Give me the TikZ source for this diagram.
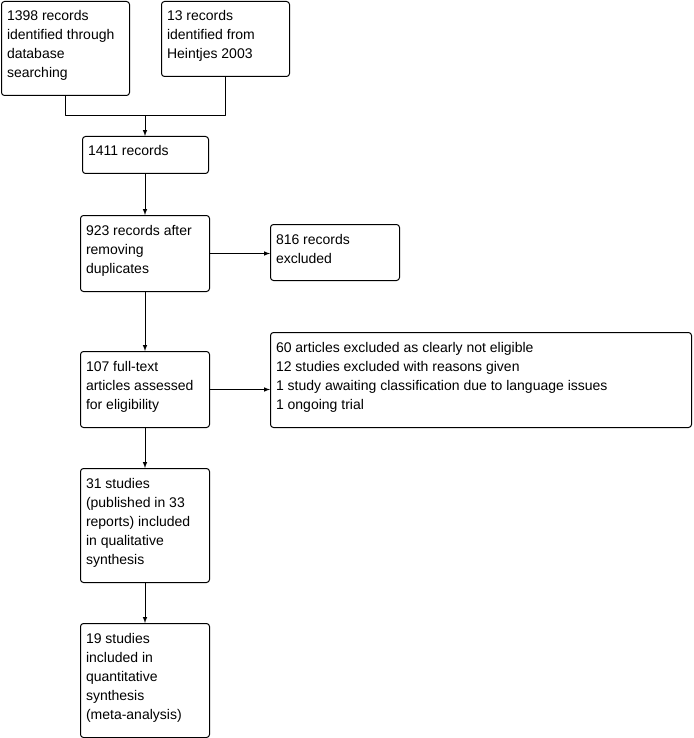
\documentclass[tikz,border=0pt]{standalone}
\usepackage{fontspec}
\setmainfont{Liberation Sans}
\usetikzlibrary{positioning}
\newcommand{\boxlines}[3]{\parbox[t][#2][t]{#1}{\rule{0pt}{19.5pt}#3}}
\tikzset{
  flowbox/.style={draw,line width=1pt,rounded corners=3pt,anchor=north west,
    inner xsep=5.5pt,inner ysep=0pt,
    font=\fontsize{14}{19}\selectfont}
}
\begin{document}
\begin{tikzpicture}[x=1pt,y=-1pt,line cap=round,line join=round,>=latex]
  \useasboundingbox (0,0) rectangle (693,738);
  \node[flowbox] (db) at (1,1) {\boxlines{117pt}{94pt}{1398 records\\identified through\\database\\searching}};
  \node[flowbox] (heintjes) at (161,1) {\boxlines{117pt}{75pt}{13 records\\identified from\\Heintjes 2003}};
  \node[flowbox] (total) at (82,136) {\boxlines{115pt}{37pt}{1411 records}};
  \node[flowbox] (dedup) at (80,215) {\boxlines{118pt}{76pt}{923 records after\\removing\\duplicates}};
  \node[flowbox] (excl) at (270,224) {\boxlines{118pt}{56pt}{816 records\\excluded}};
  \node[flowbox] (fulltext) at (80,351) {\boxlines{118pt}{76pt}{107 full-text\\articles assessed\\for eligibility}};
  \node[flowbox] (reasons) at (270,332) {\boxlines{410pt}{95pt}{60 articles excluded as clearly not eligible\\12 studies excluded with reasons given\\1 study awaiting classification due to language issues\\1 ongoing trial}};
  \node[flowbox] (qual) at (80,468) {\boxlines{118pt}{114pt}{31 studies\\(published in 33\\reports) included\\in qualitative\\synthesis}};
  \node[flowbox] (quant) at (80,623) {\boxlines{118pt}{114pt}{19 studies\\included in\\quantitative\\synthesis\\(meta-analysis)}};
  \coordinate (join) at (145,116);
  \draw[line width=1pt] (db.south) |- (join);
  \draw[line width=1pt] (heintjes.south) |- (join);
  \draw[line width=1pt,->] (join) -- (total.north -| join);
  \draw[line width=1pt,->] (total.south -| join) -- (dedup.north -| join);
  \draw[line width=1pt,->] (dedup.east) -- (dedup.east -| excl.west);
  \draw[line width=1pt,->] (dedup.south -| join) -- (fulltext.north -| join);
  \draw[line width=1pt,->] (fulltext.east) -- (fulltext.east -| reasons.west);
  \draw[line width=1pt,->] (fulltext.south -| join) -- (qual.north -| join);
  \draw[line width=1pt,->] (qual.south -| join) -- (quant.north -| join);
\end{tikzpicture}
\end{document}
